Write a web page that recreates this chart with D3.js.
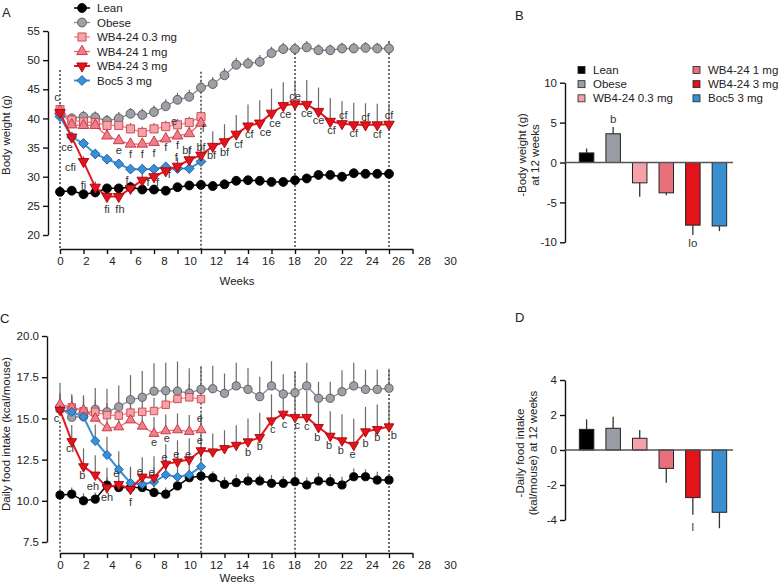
<!DOCTYPE html>
<html>
<head>
<meta charset="utf-8">
<script src="https://cdn.jsdelivr.net/npm/d3@7"></script>
<style>
body { margin: 0; background: #fff; }
svg { font-family: "Liberation Sans", Arial, sans-serif; }
</style>
</head>
<body>
<svg width="784" height="586"></svg>
<script>
// ---- data ----
const groups = ['Lean', 'Obese', 'WB4-24 0.3 mg', 'WB4-24 1 mg', 'WB4-24 3 mg', 'Boc5 3 mg'];
const weeks = [0,1,2,3,4,5,6,7,8,9,10,11,12,13,14,15,16,17,18,19,20,21,22,23,24,25,26,27,28];
const tickWeeks = [0,2,4,6,8,10,12,14,16,18,20,22,24,26,28,30];
const weekLabels = ['0','2','4','6','8','10','12','14','16','18','20','22','24','26','28','30'];

// A: body weight (g)
const leanA  = [27.4,27.6,27.0,27.3,28.0,28.0,28.2,27.8,27.8,27.6,28.2,28.5,28.6,28.4,28.7,29.3,29.4,29.3,29.1,29.1,29.4,29.7,30.3,30.3,30.0,30.6,30.5,30.5,30.5];
const obeseA = [40.8,40.0,40.3,40.2,39.6,40.0,40.8,40.6,41.1,42.1,43.2,43.7,45.3,45.9,47.4,49.2,49.4,49.7,51.2,51.9,51.9,52.2,51.7,51.7,52.0,52.0,52.1,52.0,52.0];
const wb03A  = [41.5,39.7,39.4,39.3,38.8,38.8,38.2,37.6,38.2,38.6,38.9,39.3,40.3];
const wb1A   = [41.3,38.9,38.8,38.8,37.0,36.2,35.6,35.6,35.9,36.5,37.0,37.4,39.2];
const wb3A   = [41.0,36.8,32.6,28.2,26.6,26.6,28.0,29.4,30.0,31.0,31.8,32.9,33.7,35.2,36.0,37.3,38.7,39.2,40.9,42.2,42.5,42.4,41.2,39.5,39.1,38.9,38.9,38.9,39.0];
const boc5A  = [40.3,36.8,35.7,33.9,33.0,32.2,31.3,31.3,31.3,31.7,31.4,31.4,32.6];
const leanAErr  = [0.4,0.5,0.4,0.5,0.5,0.5,0.5,0.4,0.5,0.5,0.5,0.5,0.5,0.5,0.5,0.5,0.5,0.5,0.5,0.5,0.5,0.5,0.5,0.5,0.5,0.5,0.5,0.5,0.5];
const obeseAErr = [0.9,0.9,1.0,1.0,1.0,1.1,1.0,1.1,1.1,1.2,1.2,1.2,1.3,1.2,1.2,1.2,1.1,1.2,1.1,1.1,1.1,1.1,1.0,1.0,1.0,1.0,1.0,1.0,1.0];
const wb03AErr  = [0.8,0.9,0.9,0.9,1.0,1.0,1.0,1.0,1.0,1.0,1.0,1.0,1.1];
const wb1AErr   = [0.8,0.9,0.9,0.9,1.0,1.0,1.0,1.0,1.1,1.1,1.1,1.1,1.2];
const wb3AErr   = [0.8,0.9,0.9,1.0,1.3,1.2,1.2,1.2,1.3,1.4,1.5,2.2,2.5,2.6,3.0,3.3,3.7,3.9,4.2,4.0,4.0,4.2,4.1,4.0,3.9,3.8,3.7,3.6,3.5];
const boc5AErr  = [0.6,0.6,0.6,0.6,0.6,0.6,0.6,0.6,0.6,0.6,0.6,0.6,0.6];

// C: daily food intake (kcal/mouse)
const leanC  = [10.35,10.4,10.0,10.1,10.95,10.8,10.8,10.8,10.5,10.4,10.9,11.4,11.5,11.4,11.0,11.1,11.2,11.2,11.06,11.06,11.16,10.96,11.2,11.16,10.96,11.46,11.46,11.26,11.26];
const obeseC = [15.67,15.07,15.1,15.55,15.4,15.7,16.13,16.28,16.65,16.68,16.65,16.54,16.76,16.8,16.52,16.97,16.76,16.32,16.97,16.48,16.56,16.97,16.22,16.22,16.62,16.97,16.76,16.76,16.83];
const wb03C  = [15.6,15.67,15.43,15.4,15.2,15.17,15.35,15.4,15.45,15.83,16.18,16.28,16.17];
const wb1C   = [15.85,15.67,15.5,15.0,14.42,14.48,14.9,14.52,14.08,14.24,14.3,14.2,14.3];
const wb3C   = [15.5,13.6,12.08,11.57,10.8,11.0,10.7,11.45,11.4,12.23,12.37,12.5,13.05,12.98,13.18,13.38,13.59,13.85,14.86,15.27,15.07,15.07,14.46,13.93,13.65,13.38,14.2,14.34,14.5];
const boc5C  = [15.5,15.4,15.1,13.63,12.78,11.9,11.08,11.0,11.14,11.58,11.45,11.58,12.07];
const leanCErr  = [0.4,0.4,0.45,0.4,0.5,0.45,0.4,0.4,0.45,0.4,0.5,0.45,0.5,0.4,0.45,0.5,0.45,0.4,0.5,0.45,0.5,0.45,0.5,0.45,0.5,0.5,0.45,0.5,0.4];
const obeseCErr = [1.5,1.4,1.3,1.3,1.4,1.3,1.5,1.6,1.7,1.7,1.8,1.5,1.4,1.4,1.2,1.4,1.3,1.2,1.5,1.2,1.3,1.4,1.0,1.0,1.3,1.4,1.2,1.2,1.2];
const wb03CErr  = [0.6,0.6,0.6,0.7,0.7,0.7,0.7,0.7,0.8,0.8,0.8,0.8,0.8];
const wb1CErr   = [0.7,0.7,0.8,0.8,0.9,0.9,0.9,0.9,1.0,1.0,1.0,1.0,1.0];
const wb3CErr   = [0.9,1.0,1.1,1.2,1.2,1.2,1.3,1.2,1.3,1.2,1.3,1.3,1.2,1.1,1.1,1.2,1.4,1.5,1.6,1.5,1.5,1.6,1.5,1.5,1.6,1.6,1.5,1.5,1.4];
const boc5CErr  = [0.6,0.7,0.8,1.0,1.1,1.1,1.0,0.9,0.9,0.8,0.8,0.8,0.8];

// significance letters [week, value, text]
const lettersA = [[-0.25,43.7,'c'],[0.6,35.1,'ce'],[0.9,31.7,'cfi'],[2.0,28.6,'fi'],[4.0,24.4,'fi'],[5.1,24.4,'fh'],
  [5.0,34.6,'e'],[6.0,33.9,'f'],[7.0,33.9,'f'],[8.0,34.0,'f'],[9.0,35.0,'f'],[10.0,35.4,'f'],[9.7,39.6,'e'],[12.2,38.3,'f'],
  [5.7,29.4,'f'],[7.5,29.1,'f'],[8.3,29.1,'f'],[9.3,30.5,'f'],[9.9,33.4,'f'],[10.8,34.6,'bf'],[12.0,35.1,'bf'],
  [12.9,33.7,'bf'],[14.0,34.3,'bf'],[15.2,35.6,'cf'],[16.1,37.3,'cf'],[17.5,37.7,'ce'],[18.3,39.2,'ce'],[19.2,40.7,'ce'],
  [20.0,43.8,'ce'],[21.0,40.9,'ce'],[22.0,39.7,'ce'],[23.1,38.0,'cf'],[25.0,37.5,'cf'],[27.0,37.3,'cf'],
  [24.1,40.6,'cf'],[26.0,40.3,'cf'],[28.0,40.6,'cf']];
const lettersC = [[-0.3,15.0,'c'],[0.85,13.2,'ci'],[1.9,11.57,'b'],[2.8,10.9,'eh'],[4.0,10.23,'eh'],[6.0,9.93,'f'],
  [4.8,11.65,'e'],[6.8,11.8,'e'],[7.8,11.75,'e'],[8.0,13.58,'e'],[9.1,13.8,'e'],[8.9,12.66,'e'],[9.9,12.84,'e'],[10.9,12.84,'e'],
  [11.9,15.0,'e'],[11.9,13.7,'e'],[16.0,12.95,'b'],[17.0,13.3,'b'],[18.1,14.35,'c'],[19.1,14.66,'c'],[20.2,14.6,'c'],
  [21.0,14.5,'c'],[21.9,13.85,'b'],[22.9,13.39,'b'],[23.9,13.08,'b'],[24.9,12.84,'e'],[26.0,13.52,'b'],[27.0,13.85,'b'],[28.4,13.99,'b']];

// B and D: change at 12 weeks
const bwChange   = [1.2, 3.6, -2.55, -3.8, -7.85, -7.95];
const bwErr      = [0.55, 0.85, 1.75, 0.3, 1.25, 0.65];
const foodChange = [1.18, 1.24, 0.67, -1.05, -2.72, -3.56];
const foodErr    = [0.57, 0.66, 0.47, 0.82, 0.98, 0.91];
const lettersB = [['Obese', 5.5, 'b'], ['WB4-24 3 mg', -10.1, 'lo']];
const lettersD = [['WB4-24 3 mg', -4.4, 'l']];

// ---- styles ----
const styles = {
  'Lean':          {sym: d3.symbolCircle,   size: 62, rot: 0,   fill: '#000',    stroke: '#000',    line: '#000',    lw: 1.5, bar: '#000'},
  'Obese':         {sym: d3.symbolCircle,   size: 62, rot: 0,   fill: '#9ea0a7', stroke: '#555',    line: '#8c8c8c', lw: 1.3, bar: '#9a9da6'},
  'WB4-24 0.3 mg': {sym: d3.symbolSquare,   size: 66, rot: 0,   fill: '#f5a3a9', stroke: '#c8434d', line: '#e8828b', lw: 1.3, bar: '#f4a2a8'},
  'WB4-24 1 mg':   {sym: d3.symbolTriangle, size: 50, rot: 0,   fill: '#ee7f88', stroke: '#c2323e', line: '#e26a74', lw: 1.3, bar: '#e8707a'},
  'WB4-24 3 mg':   {sym: d3.symbolTriangle, size: 48, rot: 180, fill: '#e4131c', stroke: '#a8060d', line: '#e31a1c', lw: 2,   bar: '#e3121b'},
  'Boc5 3 mg':     {sym: d3.symbolSquare,   size: 48, rot: 45,  fill: '#3a8fd9', stroke: '#1d5d9e', line: '#3a8fd9', lw: 2,   bar: '#3a8fd0'}
};
const drawOrder = ['Lean', 'Obese', 'WB4-24 0.3 mg', 'WB4-24 1 mg', 'Boc5 3 mg', 'WB4-24 3 mg'];

const svg = d3.select('svg');
const FS = 11.5;

const x = d3.scaleLinear().domain([0, 30]).range([60, 412.5]);
const xLab = d3.scalePoint().domain(weekLabels).range([60, 450]);

function styleAxis(a) {
  a.selectAll('path, line').attr('stroke', '#111').attr('stroke-width', 1.4);
  a.selectAll('text').attr('font-size', FS).attr('fill', '#222').attr('font-family', null);
}

function drawTimePanel(p) {
  const y = d3.scaleLinear().domain(p.yDomain).range(p.yRange);
  const g = svg.append('g');

  // dashed reference weeks
  g.selectAll('.vd').data(p.dashed).enter().append('line')
    .attr('x1', d => x(d[0])).attr('x2', d => x(d[0]))
    .attr('y1', d => y(d[1])).attr('y2', p.axisY)
    .attr('stroke', '#111').attr('stroke-width', 1.2).attr('stroke-dasharray', '2,2');

  g.append('g').attr('transform', `translate(${p.axisX},0)`)
    .call(d3.axisLeft(y).tickValues(p.yTicks).tickFormat(p.fmt).tickSize(5).tickSizeOuter(0).tickPadding(3))
    .call(styleAxis);

  g.append('g').attr('transform', `translate(0,${p.axisY})`)
    .call(d3.axisBottom(x).tickValues(tickWeeks).tickFormat('').tickSize(5).tickSizeOuter(0))
    .call(styleAxis);
  g.append('g').attr('transform', `translate(0,${p.axisY})`)
    .call(d3.axisBottom(xLab).tickSize(0).tickPadding(8))
    .call(a => a.select('.domain').remove())
    .call(styleAxis);

  g.append('text').attr('x', 237).attr('y', p.axisY + p.weeksDy).attr('text-anchor', 'middle')
    .attr('font-size', FS).attr('fill', '#222').text('Weeks');
  g.append('text').attr('transform', `translate(10,${p.labelY}) rotate(-90)`).attr('text-anchor', 'middle')
    .attr('font-size', FS).attr('fill', '#222').text(p.label);

  const series = drawOrder.map(name => {
    const i = groups.indexOf(name);
    return {name, pts: p.values[i].map((v, k) => ({w: weeks[k], v, e: p.errs[i][k]}))};
  });

  // error bars (upward)
  series.forEach(s => {
    g.selectAll(null).data(s.pts).enter().append('line')
      .attr('x1', d => x(d.w)).attr('x2', d => x(d.w))
      .attr('y1', d => y(d.v)).attr('y2', d => y(d.v + d.e))
      .attr('stroke', '#6a6a6a').attr('stroke-width', 1.2);
  });

  const line = d3.line().x(d => x(d.w)).y(d => y(d.v));
  series.forEach(s => {
    const st = styles[s.name];
    g.append('path').datum(s.pts).attr('d', line)
      .attr('fill', 'none').attr('stroke', st.line).attr('stroke-width', st.lw);
    g.selectAll(null).data(s.pts).enter().append('path')
      .attr('d', d3.symbol().type(st.sym).size(st.size * p.mscale))
      .attr('transform', d => `translate(${x(d.w)},${y(d.v)}) rotate(${st.rot})`)
      .attr('fill', st.fill).attr('stroke', st.stroke).attr('stroke-width', 0.9);
  });

  g.selectAll('.lt').data(p.letters).enter().append('text')
    .attr('x', d => x(d[0])).attr('y', d => y(d[1])).attr('dy', '0.35em')
    .attr('text-anchor', 'middle').attr('font-size', 11).attr('fill', '#333')
    .text(d => d[2]);
}

function drawBarPanel(p) {
  const y = d3.scaleLinear().domain(p.yDomain).range(p.yRange);
  const xb = d3.scaleBand().domain(groups).range([565, 741]).paddingInner(0.455).paddingOuter(0.54);
  const g = svg.append('g');

  g.append('g').attr('transform', 'translate(565,0)')
    .call(d3.axisLeft(y).tickValues(p.yTicks).tickFormat(d => String(d)).tickSize(5).tickSizeOuter(0).tickPadding(3))
    .call(styleAxis);

  g.selectAll('.bar').data(groups).enter().append('rect')
    .attr('x', d => xb(d))
    .attr('y', (d, i) => y(Math.max(0, p.values[i])))
    .attr('width', xb.bandwidth())
    .attr('height', (d, i) => Math.abs(y(p.values[i]) - y(0)))
    .attr('fill', d => styles[d].bar).attr('stroke', '#222').attr('stroke-width', 1);

  g.selectAll('.err').data(groups).enter().append('line')
    .attr('x1', d => xb(d) + xb.bandwidth() / 2).attr('x2', d => xb(d) + xb.bandwidth() / 2)
    .attr('y1', (d, i) => y(p.values[i]))
    .attr('y2', (d, i) => y(p.values[i] + Math.sign(p.values[i]) * p.errs[i]))
    .attr('stroke', '#333').attr('stroke-width', 1.3);

  g.append('line').attr('x1', 565).attr('x2', 733).attr('y1', y(0)).attr('y2', y(0))
    .attr('stroke', '#555').attr('stroke-width', 1.3);

  g.selectAll('.lt').data(p.letters).enter().append('text')
    .attr('x', d => xb(d[0]) + xb.bandwidth() / 2).attr('y', d => y(d[1])).attr('dy', '0.35em')
    .attr('text-anchor', 'middle').attr('font-size', FS).attr('fill', '#333').text(d => d[2]);

  const t = g.append('text').attr('transform', `translate(${p.labelX},${p.labelY}) rotate(-90)`)
    .attr('text-anchor', 'middle').attr('font-size', FS).attr('fill', '#222');
  t.append('tspan').attr('x', 0).attr('dy', 0).text(p.label[0]);
  t.append('tspan').attr('x', 0).attr('dy', 12.5).text(p.label[1]);
}

// ---- panels ----
drawTimePanel({
  yDomain: [20, 55], yRange: [235, 31], yTicks: [20,25,30,35,40,45,50,55], fmt: d3.format('d'),
  axisX: 48, axisY: 249, label: 'Body weight (g)', labelY: 135, mscale: 1, weeksDy: 36,
  dashed: [[0, 48.3], [12, 48.0], [20, 52.6], [28, 53.3]],
  values: [leanA, obeseA, wb03A, wb1A, wb3A, boc5A],
  errs: [leanAErr, obeseAErr, wb03AErr, wb1AErr, wb3AErr, boc5AErr],
  letters: lettersA
});

drawTimePanel({
  yDomain: [7.5, 20], yRange: [542, 336], yTicks: [7.5,10,12.5,15,17.5,20], fmt: d3.format('.1f'),
  axisX: 47, axisY: 553, label: 'Daily food intake (kcal/mouse)', labelY: 434, mscale: 0.85, weeksDy: 29,
  dashed: [[0, 14.8], [12, 18.14], [20, 17.83], [28, 17.94]],
  values: [leanC, obeseC, wb03C, wb1C, wb3C, boc5C],
  errs: [leanCErr, obeseCErr, wb03CErr, wb1CErr, wb3CErr, boc5CErr],
  letters: lettersC
});

drawBarPanel({
  yDomain: [-10, 10], yRange: [242.3, 82.7], yTicks: [-10,-5,0,5,10],
  values: bwChange, errs: bwErr, letters: lettersB,
  label: ['-Body weight (g)', 'at 12 weeks'], labelX: 526, labelY: 155
});

drawBarPanel({
  yDomain: [-4, 4], yRange: [520, 380], yTicks: [-4,-2,0,2,4],
  values: foodChange, errs: foodErr, letters: lettersD,
  label: ['-Daily food intake', '(kal/mouse) at 12 weeks'], labelX: 524, labelY: 453
});

// ---- legend A ----
const legA = svg.append('g');
const legY = d3.scalePoint().domain(groups).range([8, 80.5]);
groups.forEach(name => {
  const st = styles[name];
  const yy = legY(name);
  legA.append('line').attr('x1', 74).attr('x2', 90).attr('y1', yy).attr('y2', yy)
    .attr('stroke', st.line).attr('stroke-width', st.lw);
  legA.append('path').attr('d', d3.symbol().type(st.sym).size(st.size))
    .attr('transform', `translate(82,${yy}) rotate(${st.rot})`)
    .attr('fill', st.fill).attr('stroke', st.stroke).attr('stroke-width', 0.9);
  legA.append('text').attr('x', 97).attr('y', yy).attr('dy', '0.36em')
    .attr('font-size', FS).attr('fill', '#222').text(name);
});

// ---- legend B ----
const legB = svg.append('g');
const legBY = d3.scalePoint().domain([0, 1, 2]).range([70, 98.3]);
groups.forEach((name, i) => {
  const col = Math.floor(i / 3), row = i % 3;
  const sx = col === 0 ? 578 : 693;
  legB.append('rect').attr('x', sx).attr('y', legBY(row) - 3.5).attr('width', 7).attr('height', 7)
    .attr('fill', styles[name].bar).attr('stroke', '#222').attr('stroke-width', 0.8);
  legB.append('text').attr('x', sx + 15).attr('y', legBY(row)).attr('dy', '0.36em')
    .attr('font-size', FS).attr('fill', '#222').text(name);
});

// ---- panel letters ----
const panelLetters = [['A', 2, 17], ['B', 515, 20], ['C', 0, 323], ['D', 515, 322]];
svg.selectAll('.pl').data(panelLetters).enter().append('text')
  .attr('x', d => d[1]).attr('y', d => d[2]).attr('font-size', 13).attr('fill', '#222').text(d => d[0]);
</script>
</body>
</html>
